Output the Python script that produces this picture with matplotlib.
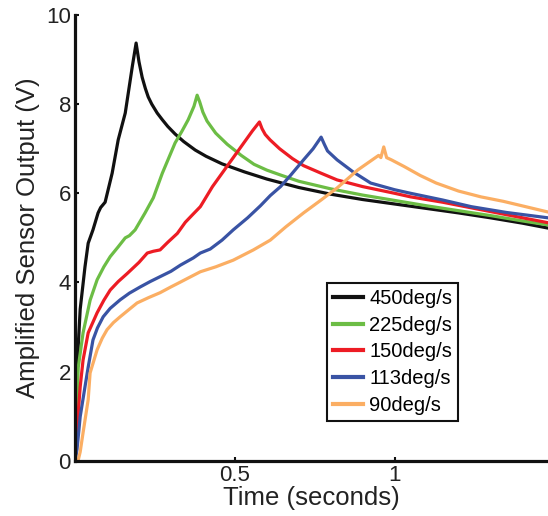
import matplotlib
matplotlib.use('Agg')
import matplotlib.pyplot as plt

plt.rcParams['font.family'] = ['Liberation Sans', 'DejaVu Sans']

labels = ['450deg/s', '225deg/s', '150deg/s', '113deg/s', '90deg/s']
colors = ['#111111', '#6cbd45', '#ed1c24', '#3953a4', '#fbae63']

# time (s) and output (V)
t_450 = [0, 0.003, 0.006, 0.01, 0.016, 0.031, 0.041, 0.056, 0.072, 0.08, 0.094, 0.116,
         0.135, 0.157, 0.179, 0.191, 0.2, 0.21, 0.22, 0.229, 0.24, 0.257, 0.273, 0.29,
         0.313, 0.34, 0.376, 0.41, 0.46, 0.53, 0.6, 0.7, 0.8, 0.9, 1.0, 1.1, 1.2, 1.3,
         1.4, 1.48]
v_450 = [0, 1.0, 1.8, 2.6, 3.4, 4.35, 4.88, 5.18, 5.56, 5.68, 5.8, 6.45,
         7.2, 7.8, 8.84, 9.37, 8.95, 8.6, 8.35, 8.16, 8.0, 7.8, 7.65, 7.5,
         7.33, 7.16, 6.97, 6.83, 6.66, 6.48, 6.32, 6.13, 5.98, 5.86, 5.76, 5.66, 5.56, 5.45,
         5.33, 5.22]

t_225 = [0, 0.005, 0.01, 0.025, 0.047, 0.069, 0.09, 0.11, 0.135, 0.157, 0.17, 0.188,
         0.219, 0.245, 0.273, 0.313, 0.335, 0.354, 0.372, 0.382, 0.39, 0.4, 0.413,
         0.44, 0.476, 0.52, 0.56, 0.6, 0.643, 0.7, 0.8, 0.9, 1.0, 1.1, 1.2, 1.3, 1.4, 1.48]
v_225 = [0, 1.2, 2.1, 2.87, 3.6, 4.06, 4.35, 4.58, 4.8, 5.0, 5.05, 5.18,
         5.56, 5.9, 6.45, 7.13, 7.4, 7.65, 7.95, 8.2, 8.05, 7.82, 7.62,
         7.35, 7.1, 6.85, 6.65, 6.52, 6.41, 6.27, 6.1, 5.96, 5.84, 5.72, 5.61, 5.5, 5.38, 5.29]

t_150 = [0, 0.008, 0.016, 0.025, 0.041, 0.069, 0.09, 0.11, 0.135, 0.163, 0.2, 0.226,
         0.245, 0.266, 0.29, 0.32, 0.345, 0.365, 0.392, 0.43, 0.46, 0.495, 0.53,
         0.555, 0.577, 0.585, 0.595, 0.61, 0.64, 0.68, 0.715, 0.77, 0.82, 0.9, 1.0,
         1.05, 1.15, 1.25, 1.35, 1.48]
v_150 = [0, 0.9, 1.66, 2.26, 2.87, 3.32, 3.6, 3.83, 4.02, 4.2, 4.45, 4.66,
         4.7, 4.73, 4.9, 5.1, 5.35, 5.5, 5.7, 6.15, 6.45, 6.8, 7.15,
         7.4, 7.6, 7.45, 7.32, 7.2, 7.0, 6.78, 6.62, 6.45, 6.3, 6.15, 6.0,
         5.92, 5.8, 5.66, 5.52, 5.34]

t_113 = [0, 0.006, 0.016, 0.031, 0.041, 0.056, 0.07, 0.088, 0.11, 0.141, 0.17, 0.204,
         0.235, 0.266, 0.3, 0.33, 0.37, 0.392, 0.423, 0.46, 0.495, 0.54, 0.58, 0.611,
         0.643, 0.674, 0.715, 0.745, 0.77, 0.78, 0.79, 0.82, 0.87, 0.925, 1.0, 1.05,
         1.15, 1.24, 1.35, 1.48]
v_113 = [0, 0.25, 0.99, 1.66, 2.1, 2.71, 2.98, 3.23, 3.42, 3.61, 3.76, 3.9,
         4.02, 4.13, 4.25, 4.39, 4.55, 4.66, 4.75, 4.95, 5.18, 5.45, 5.72, 5.95,
         6.15, 6.4, 6.75, 7.0, 7.26, 7.1, 6.95, 6.75, 6.48, 6.23, 6.08, 6.0,
         5.85, 5.7, 5.57, 5.45]

t_90 = [0, 0.01, 0.016, 0.025, 0.041, 0.047, 0.069, 0.085, 0.1, 0.12, 0.141, 0.17,
        0.194, 0.23, 0.266, 0.3, 0.33, 0.392, 0.44, 0.495, 0.558, 0.611, 0.66, 0.715,
        0.77, 0.82, 0.884, 0.93, 0.95, 0.957, 0.966, 0.975, 0.99, 1.03, 1.08, 1.13,
        1.2, 1.27, 1.34, 1.41, 1.48]
v_90 = [0, 0.02, 0.2, 0.63, 1.37, 1.97, 2.49, 2.75, 2.94, 3.1, 3.23, 3.4,
        3.54, 3.66, 3.77, 3.9, 4.01, 4.24, 4.35, 4.5, 4.73, 4.95, 5.25, 5.56,
        5.85, 6.12, 6.52, 6.75, 6.85, 6.8, 7.04, 6.8, 6.75, 6.6, 6.4, 6.23,
        6.05, 5.92, 5.82, 5.7, 5.58]

times = [t_450, t_225, t_150, t_113, t_90]
volts = [v_450, v_225, v_150, v_113, v_90]

fig = plt.figure(figsize=(5.48, 5.16), dpi=100)
ax = fig.add_axes([0.137, 0.107, 0.863, 0.864])

for t, v, c, lab in zip(times, volts, colors, labels):
    ax.plot(t, v, color=c, lw=2.3, label=lab)

ax.set_xlim(0, 1.48)
ax.set_ylim(0, 10)
ax.set_xticks([0.5, 1])
ax.set_xticklabels(['0.5', '1'])
ax.set_yticks([0, 2, 4, 6, 8, 10])

for s in ['top', 'right']:
    ax.spines[s].set_visible(False)
for s in ['left', 'bottom']:
    ax.spines[s].set_linewidth(2.3)
    ax.spines[s].set_color('#111111')

ax.tick_params(direction='in', length=3, width=1.5, labelsize=16, pad=3,
               colors='#111111', labelcolor='#222222')
ax.set_xlabel('Time (seconds)', fontsize=18.5, color='#222222', labelpad=0)
ax.set_ylabel('Amplified Sensor Output (V)', fontsize=18.5, color='#222222', labelpad=4)

leg = ax.legend(loc='upper left', bbox_to_anchor=(0.533, 0.399), fontsize=14.5,
                handlelength=1.5, handletextpad=0.3, labelspacing=0.38,
                borderpad=0.3, borderaxespad=0, fancybox=False, framealpha=1)
leg.get_frame().set_edgecolor('#111111')
leg.get_frame().set_linewidth(1.5)
for line in leg.get_lines():
    line.set_linewidth(3)

fig.savefig('out.png', dpi=100)
